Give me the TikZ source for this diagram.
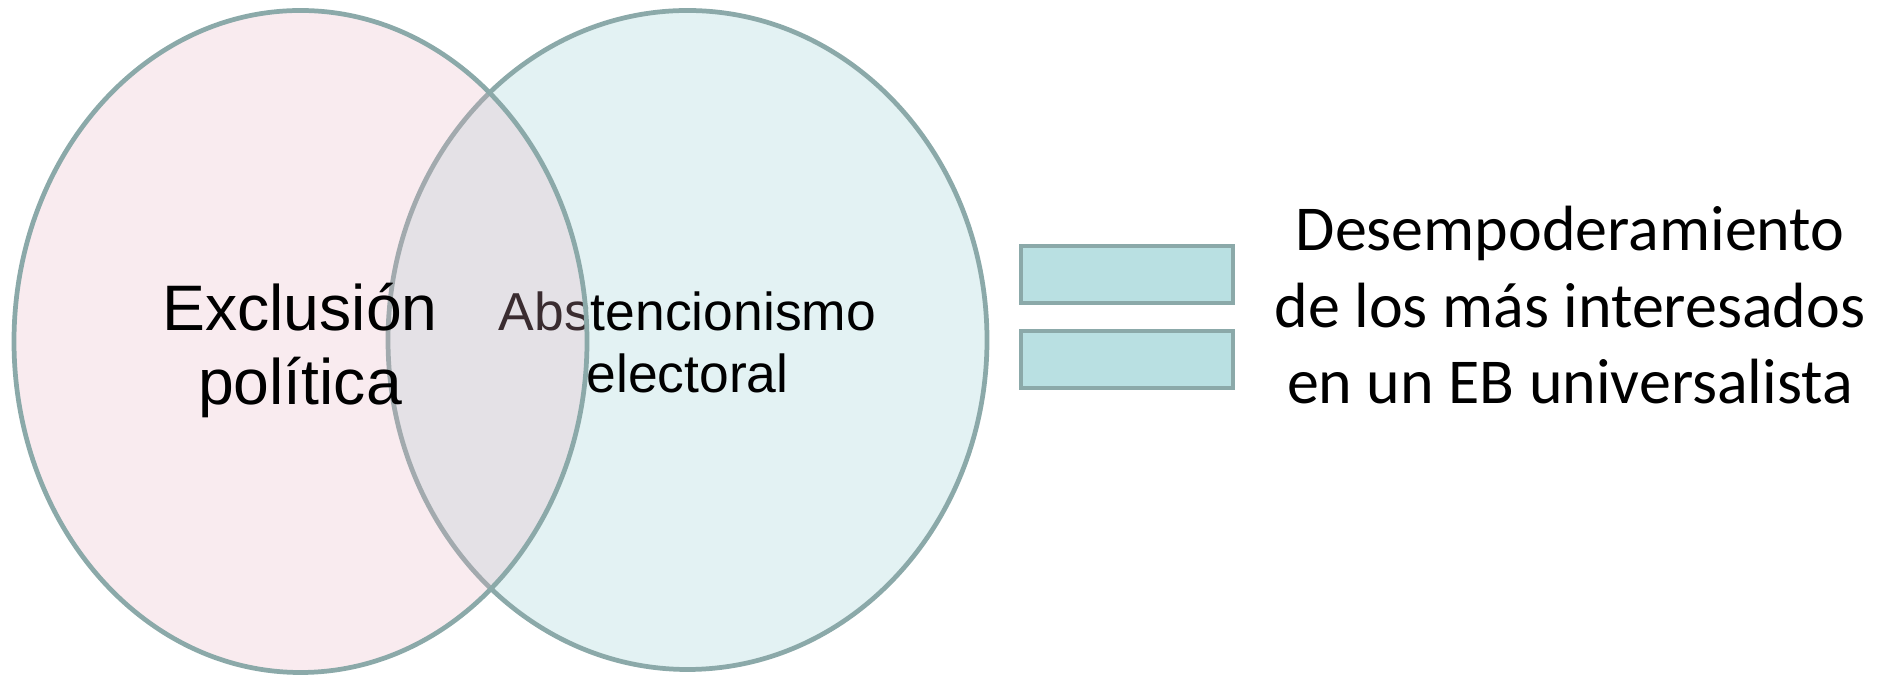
\documentclass[tikz,border=0pt]{standalone}
\usepackage{fontspec}
\setmainfont{Liberation Sans}
\newfontfamily\calibri{Carlito}
\definecolor{vennedge}{HTML}{8BA9A9}
\definecolor{vennpink}{RGB}{232,176,192}
\definecolor{vennblue}{HTML}{E3F2F3}
\definecolor{barfill}{HTML}{B9E0E2}
\tikzset{
    venn/.style={draw=vennedge, line width=1.35pt},
    eqbar/.style={draw=vennedge, fill=barfill, line width=1.35pt},
    label/.style={align=center, anchor=base, inner sep=0pt}
}
\begin{document}
\begin{tikzpicture}
    \useasboundingbox (0,0) rectangle (18.79,6.76);

    % right set first, its text lies under the left one
    \draw[venn, fill=vennblue] (6.875,3.36) ellipse [x radius=2.995, y radius=3.295];
    \node[label, font=\fontsize{15.2}{17.9}\selectfont] (abst) at (6.875,2.83)
        {Abstencionismo\\electoral};

    \draw[venn, fill=vennpink, fill opacity=0.25] (3.005,3.345) ellipse [x radius=2.865, y radius=3.31];
    \node[label, font=\fontsize{18.3}{21.1}\selectfont] (excl) at (3.00,2.71)
        {Exclusión\\política};

    % equals sign
    \foreach \y in {3.73,2.88} {
            \draw[eqbar] (10.21,\y) rectangle ++(2.12,0.57);
        }

    \node[label, font=\calibri\fontsize{18.2}{21.8}\selectfont] (desemp) at (15.70,2.72)
        {Desempoderamiento\\de los más interesados\\en un EB universalista};
\end{tikzpicture}
\end{document}
